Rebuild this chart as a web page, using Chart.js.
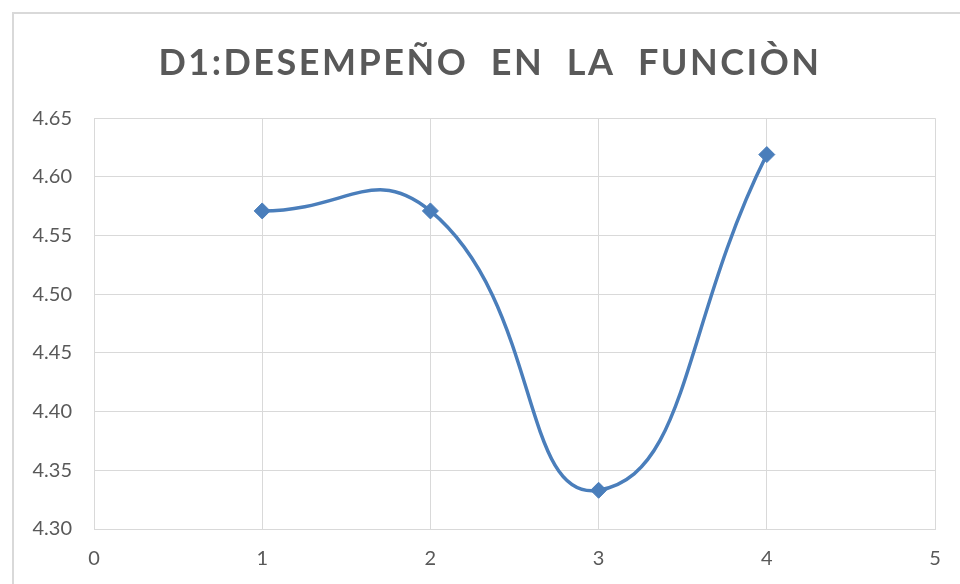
<!DOCTYPE html>
<html>
<head>
<meta charset="utf-8">
<script src="https://cdn.jsdelivr.net/npm/chart.js@4/dist/chart.umd.min.js"></script>
<style>
  html, body { margin: 0; padding: 0; background: #ffffff; }
  #wrap { width: 960px; height: 584px; }
</style>
</head>
<body>
<div id="wrap"><canvas id="chart" width="960" height="584"></canvas></div>
<script>
// Survey dimension D1: average score for each group
const titleText = 'D1:DESEMPEÑO  EN  LA  FUNCIÒN';
const groups = [1, 2, 3, 4];
const scores = [4.571, 4.571, 4.333, 4.619];
const yTicks = [4.30, 4.35, 4.40, 4.45, 4.50, 4.55, 4.60, 4.65];
const xTicks = [0, 1, 2, 3, 4, 5];

const gridGray = '#d9d9d9';
const textGray = '#595959';
const seriesBlue = '#4a7ebb';

// White page, thin outer frame, and a title centred inside that frame
const framePlugin = {
  id: 'frame',
  afterLayout(chart) {
    if (chart.titleBlock) {
      chart.titleBlock.left = 45;
    }
  },
  beforeDraw(chart) {
    const ctx = chart.ctx;
    ctx.save();
    ctx.fillStyle = '#ffffff';
    ctx.fillRect(0, 0, chart.width, chart.height);
    ctx.strokeStyle = gridGray;
    ctx.lineWidth = 2;
    ctx.strokeRect(13, 13, chart.width + 20, chart.height + 20);
    ctx.restore();
    // spaced capitals for the title only
    ctx.letterSpacing = '2.5px';
  },
  beforeDatasetsDraw(chart) {
    chart.ctx.letterSpacing = '0px';
  }
};

new Chart(document.getElementById('chart'), {
  type: 'line',
  data: {
    datasets: [{
      data: groups.map((g, i) => ({ x: g, y: scores[i] })),
      borderColor: seriesBlue,
      borderWidth: 3.5,
      tension: 0.5,
      pointStyle: 'rectRot',
      pointRadius: 8,
      pointBackgroundColor: seriesBlue,
      pointBorderColor: seriesBlue,
      pointBorderWidth: 1,
      fill: false
    }]
  },
  options: {
    responsive: false,
    animation: false,
    layout: { padding: { left: 0, right: 25, top: 0, bottom: 0 } },
    plugins: {
      legend: { display: false },
      tooltip: { enabled: false },
      title: {
        display: true,
        text: titleText,
        color: textGray,
        font: { family: 'Lato', size: 36, weight: 'bold', lineHeight: 1.2 },
        padding: { top: 42, bottom: 33 }
      }
    },
    scales: {
      x: {
        type: 'linear',
        min: xTicks[0],
        max: xTicks[xTicks.length - 1],
        afterBuildTicks(scale) { scale.ticks = xTicks.map(v => ({ value: v })); },
        afterFit(scale) { scale.height = 55; },
        grid: { color: gridGray, lineWidth: 1, drawTicks: false },
        border: { display: true, color: gridGray, width: 1 },
        ticks: {
          z: 1,
          color: textGray,
          padding: 18,
          font: { family: 'Lato', size: 20 },
          callback: v => String(v)
        }
      },
      y: {
        type: 'linear',
        min: yTicks[0],
        max: yTicks[yTicks.length - 1],
        afterBuildTicks(scale) { scale.ticks = yTicks.map(v => ({ value: v })); },
        afterFit(scale) { scale.width = 94; },
        grid: { color: gridGray, lineWidth: 1, drawTicks: false },
        border: { display: true, color: gridGray, width: 1 },
        ticks: {
          z: 1,
          color: textGray,
          padding: 22,
          font: { family: 'Lato', size: 20 },
          callback: v => Number(v).toFixed(2)
        }
      }
    }
  },
  plugins: [framePlugin]
});
</script>
</body>
</html>
